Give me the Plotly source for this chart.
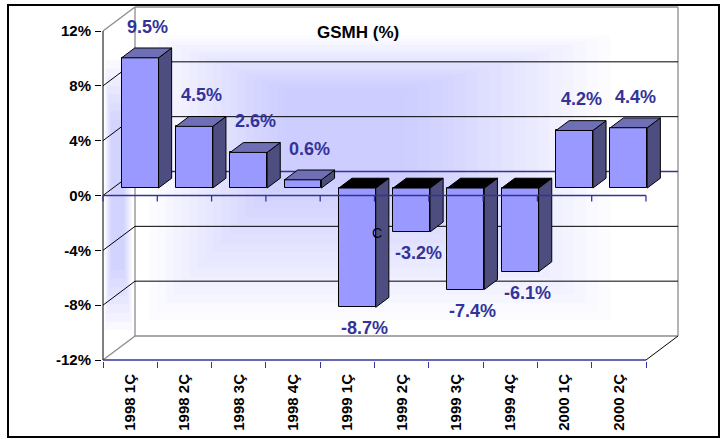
import plotly.graph_objects as go

# ---------------- data ----------------
categories = ["1998 1Ç", "1998 2Ç", "1998 3Ç", "1998 4Ç", "1999 1Ç",
              "1999 2Ç", "1999 3Ç", "1999 4Ç", "2000 1Ç", "2000 2Ç"]
values = [9.5, 4.5, 2.6, 0.6, -8.7, -3.2, -7.4, -6.1, 4.2, 4.4]
y_ticks = [-12, -8, -4, 0, 4, 8, 12]
y_ticktext = ["-12%", "-8%", "-4%", "0%", "4%", "8%", "12%"]
title_text = "GSMH (%)"

# ---------------- geometry / style ----------------
W, H = 721, 439
CAT_PX = 54.3            # pixel width of one category on the front plane
YPX = 329 / 24.0         # pixels per 1 %
DX = 32 / CAT_PX         # full depth (x units)
DY = 24 / YPX            # full depth (y units)
F0 = 0.31                # depth of bar front face
FD = 0.41                # bar depth
BW = 0.68                # bar width
dx0, dy0 = F0 * DX, F0 * DY
sdx, sdy = FD * DX, FD * DY
n = len(categories)
ymin, ymax = y_ticks[0], y_ticks[-1]
ex, ey = 1 / CAT_PX, 1 / YPX  # 1px padding

X0, X1 = -ex, n + DX + ex
Y0, Y1 = ymin - ey, ymax + DY + ey
PL, PR, PT, PB = 102, 679, 6, 361

BLUE = "#333399"
GRAY = "#8c8c8c"
FRONT = "#9999ff"
SIDE = "#4d4d80"
TOP = "#6f6fb5"
FONT = "Liberation Sans, Arial"

fig = go.Figure()
shapes = []

# pixel helpers for decorative background
def dx_(p): return (p - 103) / CAT_PX
def dy_(p): return (360 - p) / YPX - 12

# ---------------- background glow (decorative) ----------------
outer, inner = (150, 35, 610, 320), (285, 90, 405, 175)
NL = 18
for k in range(NL):
    t = k / (NL - 1)
    a = [o + (i - o) * t for o, i in zip(outer, inner)]
    shapes.append(dict(type="rect", xref="x", yref="y", layer="below",
                       x0=dx_(a[0]), x1=dx_(a[2]), y0=dy_(a[3]), y1=dy_(a[1]),
                       fillcolor="#7070ff", opacity=0.023, line=dict(width=0)))
wouter, winner = (105, 60, 132, 330), (111, 120, 124, 270)
for k in range(8):
    t = k / 7
    a = [o + (i - o) * t for o, i in zip(wouter, winner)]
    shapes.append(dict(type="rect", xref="x", yref="y", layer="below",
                       x0=dx_(a[0]), x1=dx_(a[2]), y0=dy_(a[3]), y1=dy_(a[1]),
                       fillcolor="#7070ff", opacity=0.045, line=dict(width=0)))

def seg_shapes(segs, color, width=1.0):
    for (a, b, c, d) in segs:
        shapes.append(dict(type="line", xref="x", yref="y", layer="below",
                           x0=a, y0=b, x1=c, y1=d,
                           line=dict(color=color, width=width)))

# walls: gray edges
gray_segs = [
    (DX, ymin + DY, DX, ymax + DY),
    (n + DX, ymin + DY, n + DX, ymax + DY),
    (DX, ymax + DY, n + DX, ymax + DY),
    (DX, ymin + DY, n + DX, ymin + DY),
    (0, ymax, DX, ymax + DY),
    (0, ymin, DX, ymin + DY),
]
seg_shapes(gray_segs, GRAY, 1.3)

# black gridlines on back wall and side-wall diagonals
black_segs = []
for v in y_ticks:
    if v in (ymin, ymax):
        continue
    black_segs.append((0, v, DX, v + DY))
    if v != 0:
        black_segs.append((DX, v + DY, n + DX, v + DY))
black_segs.append((n, ymin, n + DX, ymin + DY))
black_segs.append((0, ymin, 0, ymax))
seg_shapes(black_segs, "black", 1.0)

# blue lines: back zero line, floor front line
seg_shapes([(DX, DY, n + DX, DY), (0, ymin, n, ymin)], BLUE, 1.3)

# ---------------- bars ----------------
xc = [i + 0.5 + dx0 for i in range(n)]
fig.add_trace(go.Bar(x=xc, y=values, base=dy0, width=BW,
                     marker=dict(color=FRONT, line=dict(color="black", width=1)),
                     hoverinfo="skip", showlegend=False))

side_x, side_y, topp_x, topp_y, topn_x, topn_y = [], [], [], [], [], []
for x, v in zip(xc, values):
    xl, xr = x - BW / 2, x + BW / 2
    lo, hi = min(dy0, dy0 + v), max(dy0, dy0 + v)
    side_x += [xr, xr, xr + sdx, xr + sdx, xr, None]
    side_y += [lo, hi, hi + sdy, lo + sdy, lo, None]
    tx = [xl, xr, xr + sdx, xl + sdx, xl, None]
    ty = [hi, hi, hi + sdy, hi + sdy, hi, None]
    if v >= 0:
        topp_x += tx; topp_y += ty
    else:
        topn_x += tx; topn_y += ty

for xs, ys, col in [(side_x, side_y, SIDE), (topp_x, topp_y, TOP), (topn_x, topn_y, "black")]:
    fig.add_trace(go.Scatter(x=xs, y=ys, mode="lines", fill="toself", fillcolor=col,
                             line=dict(color="black", width=1),
                             hoverinfo="skip", showlegend=False))

# front zero line with ticks (drawn over bars)
zx, zy = [0, n, None], [0, 0, None]
for i in range(n + 1):
    zx += [i, i, None]
    zy += [0, -6 / YPX, None]
fig.add_trace(go.Scatter(x=zx, y=zy, mode="lines", line=dict(color=BLUE, width=1.3),
                         hoverinfo="skip", showlegend=False))

# ---------------- data labels ----------------
for x, v in zip(xc, values):
    fig.add_annotation(x=x, y=v + dy0, text=f"{v:.1f}%", showarrow=False,
                       xshift=7, yshift=31 if v >= 0 else -21,
                       font=dict(family=FONT, size=18, color=BLUE, weight="bold"))

fig.add_annotation(x=5.05, y=-2.73, text="C", showarrow=False,
                   font=dict(family=FONT, size=14, color="black"))

# outer border (pixel -> paper)
pw, ph = PR - PL, PB - PT
def px2paper_x(p): return (p - PL) / pw
def px2paper_y(p): return (PB - p) / ph
shapes.append(dict(type="rect", xref="paper", yref="paper",
                   x0=px2paper_x(8), x1=px2paper_x(719),
                   y0=px2paper_y(437), y1=px2paper_y(5),
                   line=dict(color="black", width=2), fillcolor="rgba(0,0,0,0)"))

fig.add_annotation(xref="paper", yref="paper", x=px2paper_x(358), y=px2paper_y(21),
                   text=title_text, showarrow=False,
                   font=dict(family=FONT, size=17, color="black", weight="bold"))

fig.update_layout(
    width=W, height=H,
    margin=dict(l=PL, r=W - PR, t=PT, b=H - PB, pad=0),
    paper_bgcolor="white", plot_bgcolor="white",
    shapes=shapes, bargap=0, showlegend=False,
    xaxis=dict(range=[X0, X1], showgrid=False, zeroline=False, showline=False,
               tickmode="array", tickvals=[i + 0.5 for i in range(n)],
               ticktext=categories, tickangle=-90, ticks="",
               ticklabelstandoff=9,
               tickfont=dict(family=FONT, size=15, color="black", weight="bold"),
               minor=dict(tickmode="array", tickvals=list(range(n + 1)),
                          ticks="outside", ticklen=6, tickcolor=BLUE, tickwidth=1.3),
               fixedrange=True),
    yaxis=dict(range=[Y0, Y1], showgrid=False, zeroline=False, showline=False,
               tickmode="array", tickvals=y_ticks, ticktext=y_ticktext,
               ticks="outside", ticklen=6, tickcolor="black", tickwidth=1,
               ticklabelstandoff=1,
               tickfont=dict(family=FONT, size=15, color="black", weight="bold"),
               fixedrange=True),
)

fig.write_html("out.html", config={"displayModeBar": False},
               post_script="document.body.style.margin='0';document.body.style.padding='0';")
